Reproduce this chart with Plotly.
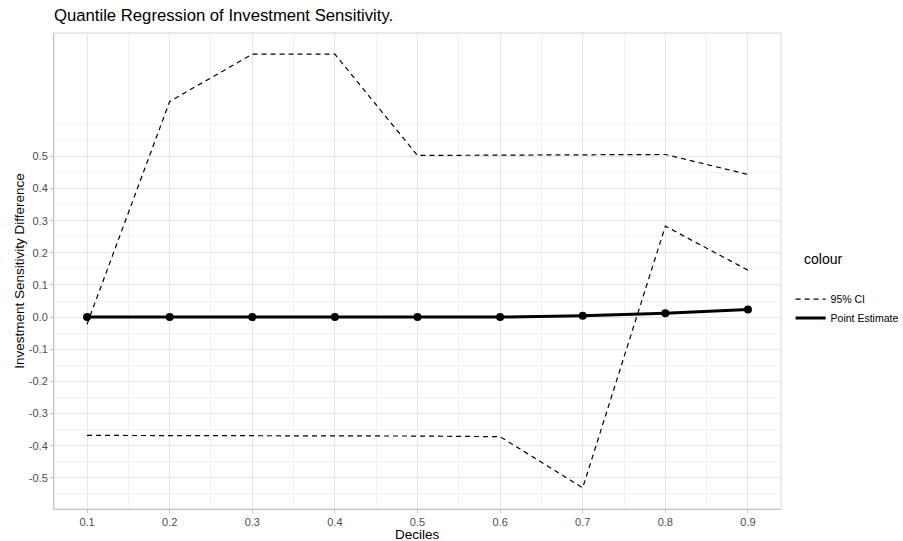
import plotly.graph_objects as go

deciles = [0.1, 0.2, 0.3, 0.4, 0.5, 0.6, 0.7, 0.8, 0.9]
point_estimate = [0.0, 0.0, 0.0, 0.0, 0.0, 0.0, 0.004, 0.012, 0.024]
ci_upper = [-0.022, 0.671, 0.818, 0.818, 0.503, 0.504, 0.505, 0.506, 0.444]
ci_lower = [-0.368, -0.368, -0.368, -0.369, -0.370, -0.372, -0.531, 0.283, 0.146]

y_ticks = [-0.5, -0.4, -0.3, -0.2, -0.1, 0.0, 0.1, 0.2, 0.3, 0.4, 0.5]
y_tick_labels = ["-0.5", "-0.4", "-0.3", "-0.2", "-0.1", "0.0", "0.1", "0.2", "0.3", "0.4", "0.5"]
y_minor = [-0.55, -0.45, -0.35, -0.25, -0.15, -0.05, 0.05, 0.15, 0.25, 0.35, 0.45, 0.55, 0.6]
x_ticks = deciles
x_tick_labels = ["0.1", "0.2", "0.3", "0.4", "0.5", "0.6", "0.7", "0.8", "0.9"]
x_minor = [0.15, 0.25, 0.35, 0.45, 0.55, 0.65, 0.75, 0.85]

FONT = "Liberation Sans, Arial, Helvetica, sans-serif"
dash = "5px,4px"

fig = go.Figure()
fig.add_trace(go.Scatter(x=deciles, y=ci_upper, mode="lines", name="95% CI",
                         legendgroup="ci", line=dict(color="black", width=1.2, dash=dash)))
fig.add_trace(go.Scatter(x=deciles, y=ci_lower, mode="lines", name="95% CI",
                         legendgroup="ci", showlegend=False,
                         line=dict(color="black", width=1.2, dash=dash)))
fig.add_trace(go.Scatter(x=deciles, y=point_estimate, mode="lines+markers", name="Point Estimate",
                         showlegend=False,
                         line=dict(color="black", width=3), marker=dict(color="black", size=8)))
fig.add_trace(go.Scatter(x=[None], y=[None], mode="lines", name="Point Estimate",
                         line=dict(color="black", width=3)))

fig.add_shape(type="rect", xref="paper", yref="paper", x0=0, x1=1, y0=0, y1=1,
              line=dict(color="#E2E2E2", width=1.3), layer="below")

axis_common = dict(
    automargin=False,
    showgrid=True, gridcolor="#E6E6E6", gridwidth=1,
    zeroline=False, showline=True, linecolor="#C4C4C4", linewidth=1,
    ticks="outside", ticklen=3, tickcolor="#C4C4C4", tickwidth=1,
    tickfont=dict(family=FONT, size=11, color="#4D4D4D"),
)

fig.update_layout(
    width=903, height=541,
    margin=dict(l=54, r=122, t=33, b=32, autoexpand=False),
    paper_bgcolor="white", plot_bgcolor="white",
    font=dict(family=FONT, color="black"),
    title=dict(text="Quantile Regression of Investment Sensitivity.",
               x=0, xref="paper", xanchor="left",
               y=1 - 15 / 541, yref="container", yanchor="middle",
               font=dict(family=FONT, size=16.7, color="black")),
    xaxis=dict(range=[0.06, 0.94], tickmode="array", tickvals=x_ticks, ticktext=x_tick_labels,
               minor=dict(tickmode="array", tickvals=x_minor, showgrid=True,
                          gridcolor="#F1F1F1", gridwidth=0.6, ticks=""),
               **axis_common),
    yaxis=dict(range=[-0.597, 0.884], tickmode="array", tickvals=y_ticks, ticktext=y_tick_labels,
               title=dict(text="Investment Sensitivity Difference", font=dict(family=FONT, size=13.5), standoff=1),
               minor=dict(tickmode="array", tickvals=y_minor, showgrid=True,
                          gridcolor="#F1F1F1", gridwidth=0.6, ticks=""),
               **axis_common),
    legend=dict(x=1.0132, xanchor="left", y=0.421, yanchor="middle",
                font=dict(family=FONT, size=10.5), tracegroupgap=0,
                bgcolor="rgba(0,0,0,0)"),
    showlegend=True,
    annotations=[
        dict(text="Deciles", xref="paper", yref="paper", x=0.5, y=0, xanchor="center",
             yanchor="middle", yshift=-25, showarrow=False,
             font=dict(family=FONT, size=13.5, color="black")),
        dict(text="colour", xref="paper", yref="paper", x=(802 - 54) / 727, y=(509 - 259) / 476,
             xanchor="left", yanchor="middle", showarrow=False,
             font=dict(family=FONT, size=14, color="black")),
    ],
)

fig.write_html(
    "out.html",
    config={"displayModeBar": False},
    post_script="document.body.style.margin='0px';document.body.style.padding='0px';"
                "document.body.style.overflow='hidden';",
)
